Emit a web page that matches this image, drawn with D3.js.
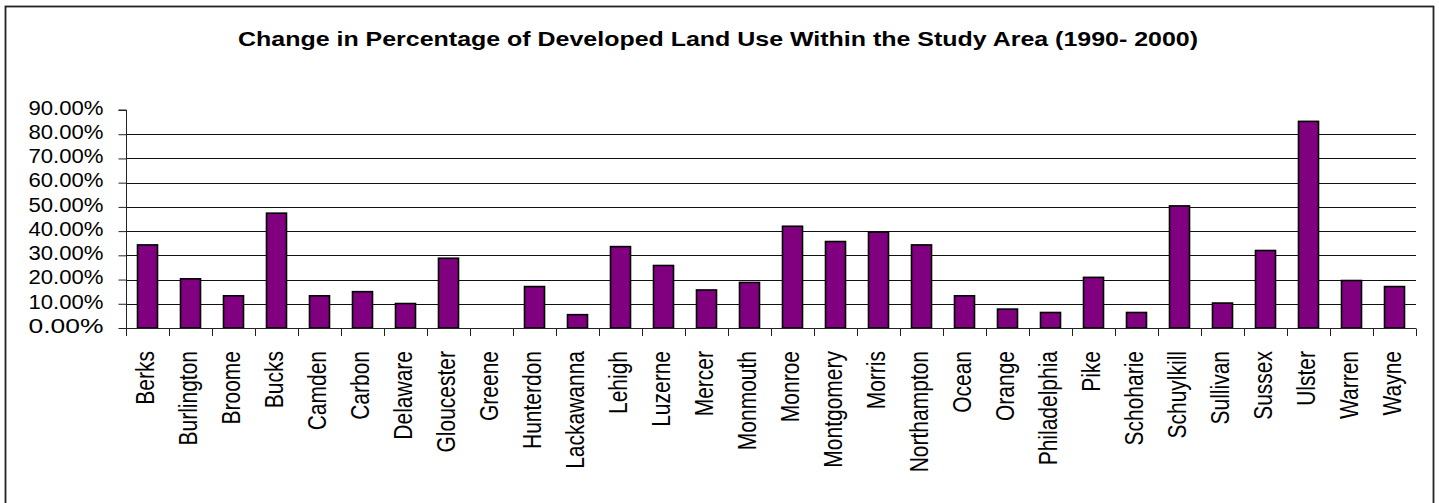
<!DOCTYPE html>
<html>
<head>
<meta charset="utf-8">
<script src="https://cdn.jsdelivr.net/npm/d3@7"></script>
<style>
  html, body { margin: 0; padding: 0; background: #fff; }
  svg { display: block; }
  text { font-family: "Liberation Sans", Arial, sans-serif; fill: #000; }
</style>
</head>
<body>
<svg id="chart" width="1439" height="503"></svg>
<script>
const titleText = "Change in Percentage of Developed Land Use Within the Study Area (1990- 2000)";
const categories = ["Berks","Burlington","Broome","Bucks","Camden","Carbon","Delaware","Gloucester","Greene","Hunterdon","Lackawanna","Lehigh","Luzerne","Mercer","Monmouth","Monroe","Montgomery","Morris","Northampton","Ocean","Orange","Philadelphia","Pike","Schoharie","Schuylkill","Sullivan","Sussex","Ulster","Warren","Wayne"];
const values = [34.3,20.3,13.3,47.4,13.3,15.0,10.1,28.8,0,17.1,5.5,33.6,25.8,15.7,18.8,42.0,35.7,39.6,34.3,13.3,7.8,6.4,20.9,6.4,50.4,10.3,32.0,85.3,19.6,17.1];
const yTicks = [0,10,20,30,40,50,60,70,80,90];

(function () {
const svg = d3.select("#chart");
const pLeft = 126, pRight = 1416, pTop = 110, pBottom = 328;

// outer border
svg.append("rect")
  .attr("x", 5.5).attr("y", 6.5).attr("width", 1428).attr("height", 500)
  .attr("fill", "none").attr("stroke", "#222").attr("stroke-width", 1.8);

// title
svg.append("text")
  .attr("x", 718).attr("y", 45.5)
  .attr("text-anchor", "middle")
  .attr("font-size", 21).attr("font-weight", "bold")
  .attr("textLength", 960).attr("lengthAdjust", "spacingAndGlyphs")
  .text(titleText);

const y = d3.scaleLinear().domain([0, 90]).range([pBottom, pTop]);
const x = d3.scaleBand().domain(categories).range([pLeft, pRight])
  .paddingInner(0.535).paddingOuter(0.2675);
const step = x.step();

// gridlines (no line at top 90%)
svg.append("g").selectAll("line")
  .data(yTicks.filter(t => t > 0 && t < 90))
  .join("line")
  .attr("x1", pLeft).attr("x2", pRight)
  .attr("y1", d => Math.round(y(d)) + 0.5).attr("y2", d => Math.round(y(d)) + 0.5)
  .attr("stroke", "#111").attr("stroke-width", 1);

// y axis
const yAxis = d3.axisLeft(y).tickValues(yTicks).tickSize(8).tickPadding(15)
  .tickFormat(d => d3.format(".2f")(d) + "%");
const gy = svg.append("g").attr("transform", `translate(${pLeft + 0.5},0)`).call(yAxis);
gy.select(".domain").attr("stroke", "#222").attr("d", `M-8,${y(90)}H0V${y(0)}`);
gy.selectAll(".tick line").attr("stroke", "#222");
gy.selectAll(".tick text")
  .attr("font-family", "'Liberation Sans', Arial, sans-serif")
  .attr("font-size", 20.5).attr("fill", "#000")
  .attr("dy", 4.3)
  .attr("x", -23)
  .attr("textLength", 75).attr("lengthAdjust", "spacingAndGlyphs");

// bars
svg.append("g").selectAll("rect")
  .data(categories)
  .join("rect")
  .attr("x", (c) => x(c))
  .attr("y", (c, i) => y(values[i]))
  .attr("width", x.bandwidth())
  .attr("height", (c, i) => y(0) - y(values[i]))
  .attr("fill", "#800080")
  .attr("stroke", "#000").attr("stroke-width", 1.6);

// x axis line & ticks at category boundaries
const xa = svg.append("g");
xa.append("line")
  .attr("x1", pLeft).attr("x2", pRight)
  .attr("y1", Math.round(y(0)) + 0.5).attr("y2", Math.round(y(0)) + 0.5)
  .attr("stroke", "#222");
const boundaries = categories.map(c => x(c) - step * x.paddingInner() / 2).concat([pRight]);
xa.selectAll("line.tk").data(boundaries).join("line").attr("class", "tk")
  .attr("x1", d => Math.round(d) + 0.5).attr("x2", d => Math.round(d) + 0.5)
  .attr("y1", Math.round(y(0)) + 0.5).attr("y2", Math.round(y(0)) + 8)
  .attr("stroke", "#222");

// x labels
svg.append("g").selectAll("text")
  .data(categories)
  .join("text")
  .attr("transform", c => `translate(${x(c) + x.bandwidth() / 2 - 2.5},351) scale(1.22,1) rotate(-90)`)
  .attr("text-anchor", "end")
  .attr("dy", "0.35em")
  .attr("font-size", 21)
  .text(c => c);
})();
</script>
</body>
</html>
